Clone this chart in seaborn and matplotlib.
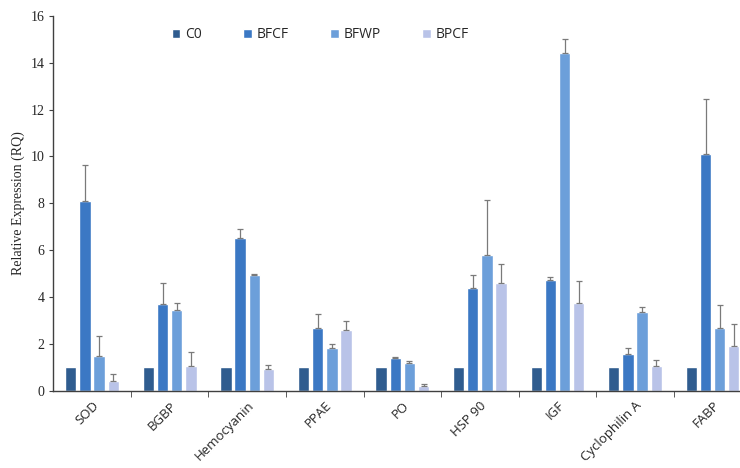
import matplotlib
matplotlib.use("Agg")
import matplotlib.pyplot as plt
import seaborn as sns
import pandas as pd
import numpy as np

genes = ["SOD", "BGBP", "Hemocyanin", "PPAE", "PO", "HSP 90", "IGF", "Cyclophilin A", "FABP"]
groups = ["C0", "BFCF", "BFWP", "BPCF"]

c0 = [1.0, 1.0, 1.0, 1.0, 1.0, 1.0, 1.0, 1.0, 1.0]
bfcf = [8.1, 3.7, 6.5, 2.67, 1.38, 4.4, 4.72, 1.57, 10.1]
bfwp = [1.5, 3.45, 4.95, 1.82, 1.17, 5.8, 14.4, 3.38, 2.7]
bpcf = [0.4, 1.05, 0.95, 2.6, 0.22, 4.6, 3.74, 1.05, 1.89]

c0_err = [0.0, 0.0, 0.0, 0.0, 0.0, 0.0, 0.0, 0.0, 0.0]
bfcf_err = [1.55, 0.9, 0.4, 0.6, 0.05, 0.55, 0.12, 0.25, 2.35]
bfwp_err = [0.85, 0.28, 0.05, 0.18, 0.08, 2.35, 0.6, 0.2, 0.95]
bpcf_err = [0.3, 0.62, 0.15, 0.36, 0.05, 0.8, 0.96, 0.25, 0.97]

colors = ["#2F5C8F", "#3B78C4", "#6C9FDA", "#B9C3E8"]

values = [c0, bfcf, bfwp, bpcf]
errors = [c0_err, bfcf_err, bfwp_err, bpcf_err]
df = pd.DataFrame({
    "gene": np.tile(genes, len(groups)),
    "group": np.repeat(groups, len(genes)),
    "value": np.concatenate(values),
    "err": np.concatenate(errors),
})

sns.set_style("white")
fig = plt.figure(figsize=(7.4, 4.68), dpi=100)
ax = fig.add_axes([0.072, 0.165, 0.935, 0.801])

sns.barplot(data=df, x="gene", y="value", hue="group", order=genes,
            hue_order=groups, palette=colors, width=0.73, gap=0.2,
            errorbar=None, saturation=1, ax=ax, legend=True)

# upper error bars placed at the centre of each drawn bar
bars = [p for p in ax.patches if p.get_height() > 0][:len(df)]
for p, (_, row) in zip(bars, df.iterrows()):
    if row["err"] > 0:
        xc = p.get_x() + p.get_width() / 2
        ax.errorbar(xc, p.get_height(), yerr=[[0], [row["err"]]], fmt="none",
                    ecolor="#7A7A7A", elinewidth=0.9, capsize=2, capthick=0.9)

ax.set_ylim(0, 16)
ax.set_xlim(-0.5, 8.42)
ax.set_yticks(range(0, 17, 2))
ax.set_yticklabels([str(v) for v in range(0, 17, 2)], family="Liberation Serif", fontsize=10)
ax.set_ylabel("Relative Expression (RQ)", family="Liberation Serif", fontsize=10)
ax.set_xlabel("")
ax.set_xticks(range(len(genes)))
ax.set_xticklabels(genes, rotation=45, ha="right", rotation_mode="anchor",
                   family="Open Sans", fontsize=9.5)
ax.tick_params(axis="x", length=0, pad=6)
ax.set_xticks(np.arange(0.5, 8.5, 1), minor=True)
ax.tick_params(axis="x", which="minor", length=4, direction="out", color="#404040", bottom=True)
ax.tick_params(axis="y", length=3, direction="out", color="#404040", left=True)

for s in ["top", "right"]:
    ax.spines[s].set_visible(False)
for s in ["left", "bottom"]:
    ax.spines[s].set_color("#404040")
    ax.spines[s].set_linewidth(1.0)

leg = ax.legend(loc="upper left", bbox_to_anchor=(0.163, 0.984), borderaxespad=0,
                ncol=4, frameon=False, handlelength=0.6, handleheight=0.6,
                columnspacing=3.0, handletextpad=0.35,
                prop={"family": "Open Sans", "size": 10})

fig.savefig("out.png", dpi=100)
